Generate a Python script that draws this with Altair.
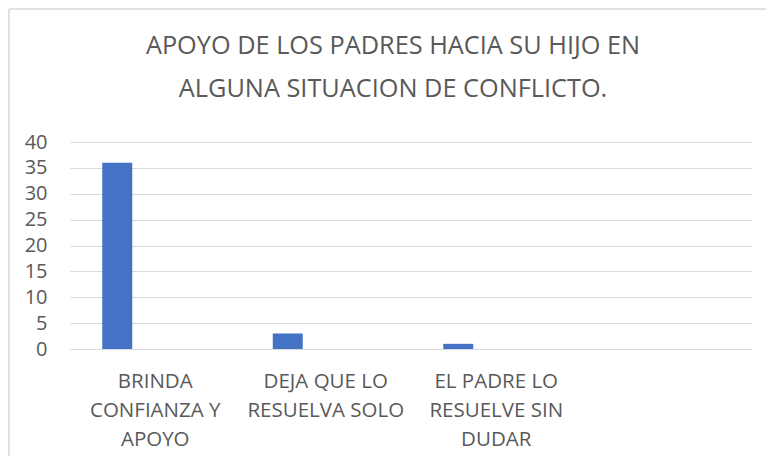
import altair as alt
import pandas as pd

categories = ["BRINDA|CONFIANZA Y|APOYO", "DEJA QUE LO|RESUELVA SOLO", "EL PADRE LO|RESUELVE SIN|DUDAR", " "]
values = [36, 3, 1, None]
title_lines = ["APOYO DE LOS PADRES HACIA SU HIJO EN", "ALGUNA SITUACION DE CONFLICTO."]
y_ticks = [0, 5, 10, 15, 20, 25, 30, 35, 40]

df = pd.DataFrame({"cat": categories, "val": values})
one = pd.DataFrame({"a": [0]})

GRAY = "#D9D9D9"
TEXT = "#595959"
FONT = "Open Sans"

bars = alt.Chart(df).mark_bar(color="#4472C4", width=30, xOffset=-38).encode(
    x=alt.X(
        "cat:N",
        sort=categories,
        scale=alt.Scale(domain=categories, paddingInner=0, paddingOuter=0),
        axis=alt.Axis(
            title=None,
            labelAngle=0,
            labelExpr="split(datum.label, '|')",
            labelFont=FONT,
            labelFontSize=20.5,
            labelColor=TEXT,
            labelLineHeight=29,
            labelPadding=22,
            ticks=False,
            domainColor=GRAY,
            domainWidth=1,
            grid=False,
        ),
    ),
    y=alt.Y(
        "val:Q",
        scale=alt.Scale(domain=[0, 40], nice=False),
        axis=alt.Axis(
            title=None,
            values=y_ticks,
            labelFont=FONT,
            labelFontSize=20,
            labelColor=TEXT,
            labelPadding=23,
            ticks=False,
            domain=False,
            gridColor=GRAY,
            gridWidth=1,
        ),
    ),
)

frame_left = alt.Chart(one).mark_rule(color=GRAY, strokeWidth=1.5).encode(
    x=alt.value(-61), y=alt.value(-133), y2=alt.value(330)
)
frame_top = alt.Chart(one).mark_rule(color=GRAY, strokeWidth=1.5).encode(
    x=alt.value(-61), x2=alt.value(720), y=alt.value(-133)
)

title = alt.Chart(one).mark_text(
    text=title_lines,
    font=FONT,
    fontSize=25.3,
    color=TEXT,
    lineHeight=42.5,
    align="center",
    baseline="alphabetic",
).encode(x=alt.value(323), y=alt.value(-87.7))

chart = alt.layer(frame_left, frame_top, title, bars).properties(
    width=682,
    height=207,
    padding={"left": 62, "top": 134, "right": 14, "bottom": 107},
    autosize=alt.AutoSizeParams(type="none"),
).configure_view(stroke=None)

chart.save("out.html", embed_options={"renderer": "svg", "actions": False})
